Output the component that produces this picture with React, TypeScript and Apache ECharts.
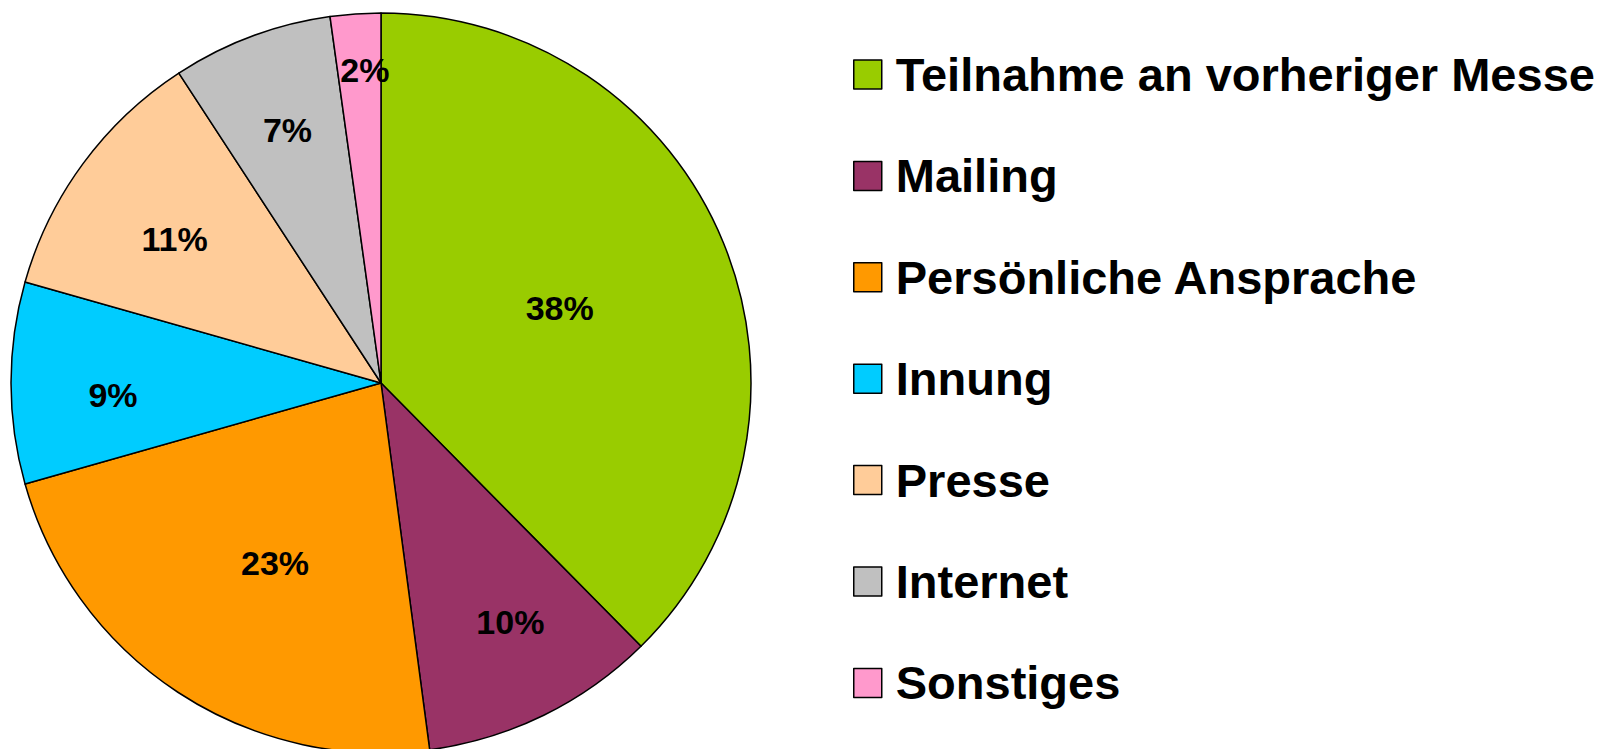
import React, { useEffect, useRef } from "react";
import * as echarts from "echarts";

const categories = [
  "Teilnahme an vorheriger Messe",
  "Mailing",
  "Persönliche Ansprache",
  "Innung",
  "Presse",
  "Internet",
  "Sonstiges",
];
const values = [37.6, 10.3, 22.7, 8.8, 11.4, 7.0, 2.2];
const colors = ["#99CC00", "#993366", "#FF9900", "#00CCFF", "#FFCC99", "#C0C0C0", "#FF99CC"];
// label placement styling: distance from centre as fraction of radius, and angular nudge (deg)
const labelRadiusFrac = [0.524, 0.735, 0.564, 0.725, 0.68, 0.728, 0.848];
const labelAngleNudge = [-0.5, -2.3, -2.8, -2.6, -1.5, 0.2, 1.0];

const CX = 381;
const CY = 383;
const R = 370;

export default function App() {
  const ref = useRef<HTMLDivElement>(null);
  useEffect(() => {
    document.body.style.margin = "0";
    const chart = echarts.init(ref.current!, null, { renderer: "svg" });
    const total = values.reduce((a, b) => a + b, 0);
    const option: any = {
      animation: false,
      backgroundColor: "#ffffff",
      legend: {
        orient: "vertical",
        left: 848,
        top: 46,
        icon: "rect",
        itemWidth: 28,
        itemHeight: 29,
        itemGap: 54.4,
        selectedMode: false,
        itemStyle: { borderColor: "#000000", borderWidth: 1.5 },
        textStyle: {
          fontFamily: "Liberation Sans, Arial, sans-serif",
          fontWeight: "bold",
          fontSize: 47,
          lineHeight: 47,
          color: "#000000",
          padding: [0, 0, 0, 9],
        },
        data: categories,
      },
      series: [
        {
          type: "pie",
          center: [CX, CY],
          radius: [0, R],
          startAngle: 90,
          clockwise: true,
          silent: true,
          emphasis: { disabled: true },
          itemStyle: { borderColor: "#000000", borderWidth: 1.5 },
          label: {
            show: true,
            position: "inside",
            formatter: (p: any) => Math.round(p.percent) + "%",
            fontFamily: "Liberation Sans, Arial, sans-serif",
            fontWeight: "bold",
            fontSize: 34,
            color: "#000000",
          },
          labelLine: { show: false },
          labelLayout: (params: any) => {
            const i = params.dataIndex;
            let cum = 0;
            for (let k = 0; k < i; k++) cum += values[k];
            const mid =
              ((cum + values[i] / 2) / total) * Math.PI * 2 +
              (labelAngleNudge[i] * Math.PI) / 180;
            const d = labelRadiusFrac[i] * R;
            return {
              x: CX + Math.sin(mid) * d,
              y: CY - Math.cos(mid) * d,
              align: "center",
              verticalAlign: "middle",
            };
          },
          data: categories.map((name, i) => ({
            name,
            value: values[i],
            itemStyle: { color: colors[i] },
          })),
        },
      ],
    };
    chart.setOption(option);
    return () => chart.dispose();
  }, []);
  return (
    <div
      ref={ref}
      style={{ position: "absolute", left: 0, top: 0, width: 1611, height: 749 }}
    />
  );
}
